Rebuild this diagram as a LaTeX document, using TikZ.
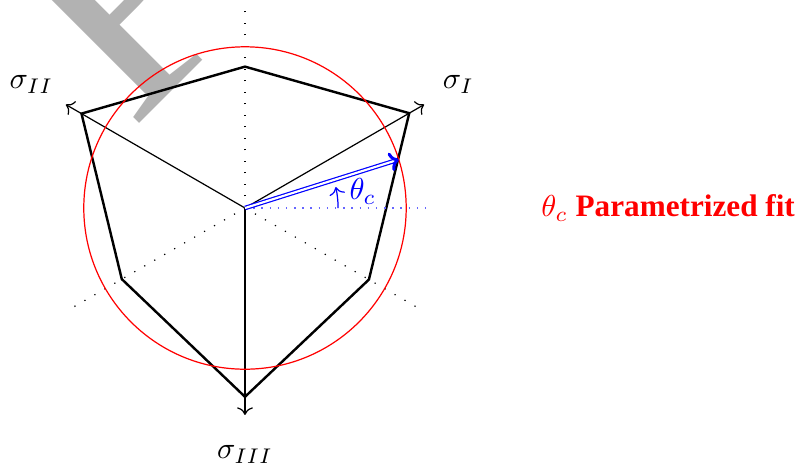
\documentclass[tikz,border=0pt]{standalone}
\usepackage{fontspec}
\setmainfont{Liberation Serif}
\usetikzlibrary{arrows.meta}

\begin{document}
\begin{tikzpicture}[>=To,
  negaxis/.style={dash pattern=on 0.4pt off 3.4pt},
  surface/.style={thick,line join=miter}]
\useasboundingbox (-2.842,-2.993) rectangle (6.415,2.413);
% watermark behind the drawing
\begin{scope}
\clip (-2.842,-2.993) rectangle (6.415,2.413);
\node[rotate=45,anchor=base west,inner sep=0pt,text=black!30,font=\fontsize{107}{107}\selectfont] (mark) at (-1.317,0.887) {PREPRINT};
\end{scope}
\coordinate (O) at (0,0);
% negative axes, dotted
\foreach \a in {90,210,330} \draw[negaxis] (O) -- (\a:2.4);
% principal stress axes
\foreach \a/\n in {30/I,150/II,270/III} {
  \draw[->] (O) -- (\a:2.4) coordinate (tip\n);
  \node (lab\n) at (\a:2.86) {$\sigma_{\n}$};
}
% yield surface
\foreach \a/\r [count=\i] in {30/2.2,90/1.64,150/2.19,210/1.65,270/2.19,330/1.66}
  \coordinate (v\i) at (\a:\r);
\draw[surface] (v1) -- (v2) -- (v3) -- (v4) -- (v5) -- (v6) -- cycle;
% fitted circle
\draw[red] (O) circle (1.87);
% Lode angle theta_c
\draw[blue!60,dash pattern=on 0.5pt off 2.2pt] (O) -- (0:2.15) coordinate (ref);
\coordinate (fitpt) at (17.5:1.87);
\draw[blue,double,double distance=0.7pt,-{To[length=3pt,line width=1pt]}] (O) -- (fitpt);
\draw[blue,->] (0:1.08) arc (0:13:1.08);
\node[blue] (thc) at (8:1.38) {$\theta_c$};
\node[red,anchor=west,inner sep=0pt,font=\fontsize{10.3}{12}\selectfont] (fit) at (3.43,0) {$\theta_c$ \textbf{Parametrized fit}};
\end{tikzpicture}
\end{document}
